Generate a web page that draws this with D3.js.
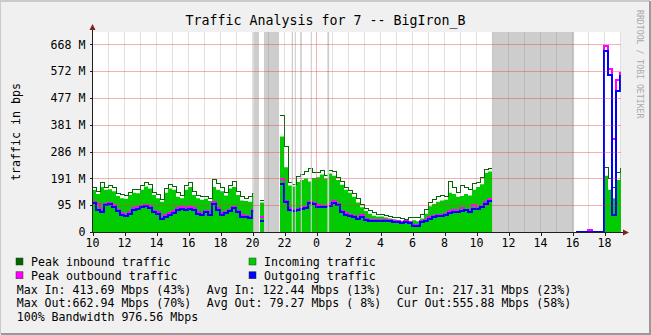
<!DOCTYPE html>
<html>
<head>
<meta charset="utf-8">
<script src="https://cdn.jsdelivr.net/npm/d3@7/dist/d3.min.js"></script>
<style>
  html, body { margin: 0; padding: 0; background: #f0f0f0; }
  svg { display: block; }
  text { font-family: "DejaVu Sans Mono", monospace; white-space: pre; }
</style>
</head>
<body>
<svg id="chart" width="651" height="335"></svg>
<script>
// samples every 15 minutes, first one at 10:00, values in M (as on the axis)
const stepHours = 0.25;

const incoming = [
  149,135,160,150, 152,145,128,120, 118,132,140,138, 150,162,155,132,
  120,108,140,155, 150,125,120,150, 160,132,120,115, 118,110,160,150,
  145,130,155,160, 132,112,110,108, 130,null,105,null, null,null,null,340,
  230,165,162,178, 185,190,180,192, 195,205,190,208, 200,185,168,150,
  140,125,105,88, 75,65,58,55, 55,52,48,45, 40,36,33,38,
  42,38,48,65, 92,100,108,112, 115,140,135,125, 128,135,130,150,
  160,170,210,215,
  null,null,null,null, null,null,null,null, null,null,null,null, null,null,null,null,
  null,null,null,null, null,
  0,0,0,0,0,0,0,
  200,150,120,185,217,217
];

const peakIn = [
  158,145,175,160, 165,158,138,135, 130,142,150,152, 165,175,168,140,
  132,116,155,168, 162,140,130,165, 175,145,130,125, 128,120,188,172,
  158,140,165,178, 145,128,118,125, 138,null,112,null, null,null,null,413,
  303,175,170,198, 205,215,225,210, 210,218,200,218, 214,195,178,160,
  148,138,118,98, 85,75,68,62, 62,60,56,52, 50,48,46,52,
  52,50,62,80, 105,115,128,130, 128,178,160,140, 165,160,150,172,
  175,195,222,225,
  null,null,null,null, null,null,null,null, null,null,null,null, null,null,null,null,
  null,null,null,null, null,
  0,0,0,0,0,0,0,
  230,190,160,210,225,225
];

const outgoing = [
  102,80,72,95, 98,88,75,62, 58,65,80,82, 88,92,85,70,
  65,45,55,62, 68,78,82,80, 82,78,65,60, 70,62,100,78,
  62,68,75,85, 70,55,52,50, 75,null,40,null, null,null,null,170,
  105,80,75,78, 82,85,103,100, 90,88,88,92, 103,95,71,62,
  58,52,45,55, 42,40,38,40, 40,38,38,36, 34,33,34,32,
  22,20,34,38, 48,52,56,58, 60,68,72,70, 75,78,72,82,
  82,88,100,112,
  null,null,null,null, null,null,null,null, null,null,null,null, null,null,null,null,
  null,null,null,null, null,
  0,0,0,0,0,0,0,
  645,560,60,500,556,556
];

const peakOut = [
  108,98,80,100, 102,95,80,68, 62,70,85,88, 94,96,92,75,
  70,50,60,68, 75,85,88,86, 88,85,72,65, 76,70,108,85,
  68,72,80,90, 76,60,58,55, 80,null,55,null, null,null,null,188,
  110,85,80,82, 86,90,108,104, 95,92,92,100, 110,100,76,66,
  62,56,50,62, 46,44,42,44, 44,42,42,40, 38,37,38,36,
  26,24,38,42, 52,56,60,62, 65,75,78,75, 85,80,78,95,
  86,92,105,116,
  null,null,null,null, null,null,null,null, null,null,null,null, null,null,null,null,
  null,null,null,null, null,
  0,0,0,6,0,0,0,
  663,580,330,540,565,565
];

// periods with no data, hours after 10:00
const unknown = [
  [10.08, 10.44], [10.75, 11.69], [12.48, 12.56], [12.67, 12.74],
  [13.04, 13.11], [13.67, 13.74], [14.71, 14.82], [25.02, 30.13]
];

const xTicks = [0, 2, 4, 6, 8, 10, 12, 14, 16, 18, 20, 22, 24, 26, 28, 30, 32];
const xLabels = ["10","12","14","16","18","20","22","0","2","4","6","8","10","12","14","16","18"];
const yTicks = [0, 95.37, 190.73, 286.1, 381.47, 476.84, 572.2, 667.57];
const yLabels = ["0", "95 M", "191 M", "286 M", "381 M", "477 M", "572 M", "668 M"];

const legendItems = [
  {name: "Peak inbound traffic", color: "#006600"},
  {name: "Incoming traffic", color: "#00cc00"},
  {name: "Peak outbound traffic", color: "#ff00ff"},
  {name: "Outgoing traffic", color: "#0000ff"}
];
const statLines = [
  ["Max In: 413.69 Mbps (43%)", "Avg In: 122.44 Mbps (13%)", "Cur In: 217.31 Mbps (23%)"],
  ["Max Out:662.94 Mbps (70%)", "Avg Out: 79.27 Mbps ( 8%)", "Cur Out:555.88 Mbps (58%)"],
  ["100% Bandwidth 976.56 Mbps"]
];

const W = 651, H = 335;
const plot = {left: 92, right: 621, top: 32, bottom: 232};

const svg = d3.select("#chart");

const x = d3.scaleLinear().domain([0, 33.06]).range([plot.left, plot.right]);
const y = d3.scaleLinear().domain([0, 711.5]).range([plot.bottom, plot.top]);

// background and frame
svg.append("rect").attr("width", W).attr("height", H).attr("fill", "#f0f0f0");
svg.append("path").attr("d", `M0,${H - 1}V1H${W - 1}`).attr("stroke", "#cbcbcb").attr("stroke-width", 2).attr("fill", "none");
svg.append("path").attr("d", `M1,${H - 1}H${W - 1}V1`).attr("stroke", "#999999").attr("stroke-width", 2).attr("fill", "none");

svg.append("rect")
  .attr("x", plot.left).attr("y", plot.top)
  .attr("width", plot.right - plot.left).attr("height", plot.bottom - plot.top)
  .attr("fill", "#ffffff");

svg.append("clipPath").attr("id", "clip")
  .append("rect")
  .attr("x", plot.left).attr("y", plot.top)
  .attr("width", plot.right - plot.left).attr("height", plot.bottom - plot.top);

// each sample holds its value for one step, like rrdtool does
function steps(values) {
  const pts = [];
  values.forEach(function(v, i) {
    pts.push({t: i * stepHours, v: v});
    pts.push({t: (i + 1) * stepHours, v: v});
  });
  return pts;
}

const g = svg.append("g").attr("clip-path", "url(#clip)");

const area = d3.area()
  .defined(d => d.v != null)
  .x(d => x(d.t))
  .y0(y(0))
  .y1(d => y(d.v));

const line = d3.line()
  .defined(d => d.v != null)
  .x(d => x(d.t))
  .y(d => y(d.v));

g.append("path").datum(steps(incoming))
  .attr("d", area).attr("fill", "#00cc00");

g.append("path").datum(steps(peakIn))
  .attr("d", line).attr("fill", "none")
  .attr("stroke", "#006600").attr("stroke-width", 1)
  .attr("shape-rendering", "crispEdges");

g.append("path").datum(steps(peakOut))
  .attr("d", line).attr("fill", "none")
  .attr("stroke", "#ff00ff").attr("stroke-width", 2)
  .attr("shape-rendering", "crispEdges");

g.append("path").datum(steps(outgoing))
  .attr("d", line).attr("fill", "none")
  .attr("stroke", "#0000ff").attr("stroke-width", 2)
  .attr("shape-rendering", "crispEdges");

// unknown data shading
g.selectAll("rect.unknown")
  .data(unknown)
  .join("rect")
  .attr("class", "unknown")
  .attr("x", d => x(d[0]))
  .attr("width", d => Math.max(1, x(d[1]) - x(d[0])))
  .attr("y", plot.top)
  .attr("height", plot.bottom - plot.top)
  .attr("fill", "#cdcdcd");

// grid on top
const grid = svg.append("g").attr("shape-rendering", "crispEdges");

grid.selectAll("line.vgrid")
  .data(d3.range(1, 34).filter(h => h !== 14))
  .join("line")
  .attr("x1", d => x(d) + 0.5).attr("x2", d => x(d) + 0.5)
  .attr("y1", plot.top).attr("y2", plot.bottom)
  .attr("stroke", "rgba(120,120,120,0.22)");

grid.append("line")
  .attr("x1", x(14) + 0.5).attr("x2", x(14) + 0.5)
  .attr("y1", plot.top).attr("y2", plot.bottom)
  .attr("stroke", "rgba(225,60,60,0.4)");

grid.selectAll("line.hgrid")
  .data(yTicks.slice(1))
  .join("line")
  .attr("x1", plot.left).attr("x2", plot.right)
  .attr("y1", d => Math.round(y(d)) + 0.5).attr("y2", d => Math.round(y(d)) + 0.5)
  .attr("stroke", "rgba(225,60,60,0.4)");

// axes
const yAxis = d3.axisLeft(y)
  .tickValues(yTicks)
  .tickFormat((d, i) => yLabels[i])
  .tickSize(3)
  .tickPadding(4)
  .tickSizeOuter(0);

const xAxis = d3.axisBottom(x)
  .tickValues(xTicks)
  .tickFormat((d, i) => xLabels[i])
  .tickSize(3)
  .tickPadding(3.5)
  .tickSizeOuter(0);

const ya = svg.append("g").attr("transform", `translate(${plot.left + 0.5},0)`).call(yAxis);
const xa = svg.append("g").attr("transform", `translate(0,${plot.bottom + 0.5})`).call(xAxis);

[ya, xa].forEach(function(a) {
  a.select(".domain").remove();
  a.selectAll(".tick line").attr("stroke", "#202020").attr("shape-rendering", "crispEdges");
  a.selectAll(".tick text").attr("fill", "#000").style("font-size", "11.6px")
    .style("font-family", "\"DejaVu Sans Mono\", monospace");
});
xa.selectAll(".tick line").attr("transform", "translate(0.5,0)");

svg.append("line")
  .attr("x1", plot.left + 0.5).attr("x2", plot.left + 0.5)
  .attr("y1", plot.bottom + 1).attr("y2", plot.top - 3)
  .attr("stroke", "#202020").attr("shape-rendering", "crispEdges");
svg.append("line")
  .attr("x1", plot.left).attr("x2", plot.right + 4)
  .attr("y1", plot.bottom + 0.5).attr("y2", plot.bottom + 0.5)
  .attr("stroke", "#202020").attr("shape-rendering", "crispEdges");

svg.append("path")
  .attr("d", `M${plot.left - 2.5},${plot.top - 2}L${plot.left + 0.5},${plot.top - 8}L${plot.left + 3.5},${plot.top - 2}Z`)
  .attr("fill", "#802020");
svg.append("path")
  .attr("d", `M${plot.right + 2},${plot.bottom - 2.5}L${plot.right + 8},${plot.bottom + 0.5}L${plot.right + 2},${plot.bottom + 3.5}Z`)
  .attr("fill", "#802020");

// titles
svg.append("text")
  .attr("x", 325.5).attr("y", 25)
  .attr("text-anchor", "middle")
  .style("font-size", "13.3px")
  .text("Traffic Analysis for 7 -- BigIron_B");

svg.append("text")
  .attr("transform", "translate(20,132) rotate(-90)")
  .attr("text-anchor", "middle")
  .style("font-size", "11.6px")
  .text("traffic in bps");

svg.append("text")
  .attr("transform", "translate(637,10) rotate(90)")
  .attr("fill", "#aaaaaa")
  .style("font-size", "8.2px")
  .text("RRDTOOL / TOBI OETIKER");

// legend
const rowY = [266, 279.75, 293.5, 307.25, 321];
const colX = [16, 249];

const leg = svg.append("g").selectAll("g")
  .data(legendItems)
  .join("g")
  .attr("transform", (d, i) => `translate(${colX[i % 2]},${rowY[Math.floor(i / 2)]})`);

leg.append("rect")
  .attr("x", 0).attr("y", -8)
  .attr("width", 7).attr("height", 7)
  .attr("fill", d => d.color)
  .attr("stroke", "#333").attr("stroke-width", 0.5);

leg.append("text")
  .attr("x", 15).attr("y", 0)
  .style("font-size", "11.6px")
  .text(d => d.name);

const statX = [16.7, 206.7, 396.7];
statLines.forEach(function(row, r) {
  svg.append("g").selectAll("text")
    .data(row)
    .join("text")
    .attr("x", (d, i) => statX[i])
    .attr("y", rowY[r + 2])
    .style("font-size", "11.6px")
    .text(d => d);
});
</script>
</body>
</html>
